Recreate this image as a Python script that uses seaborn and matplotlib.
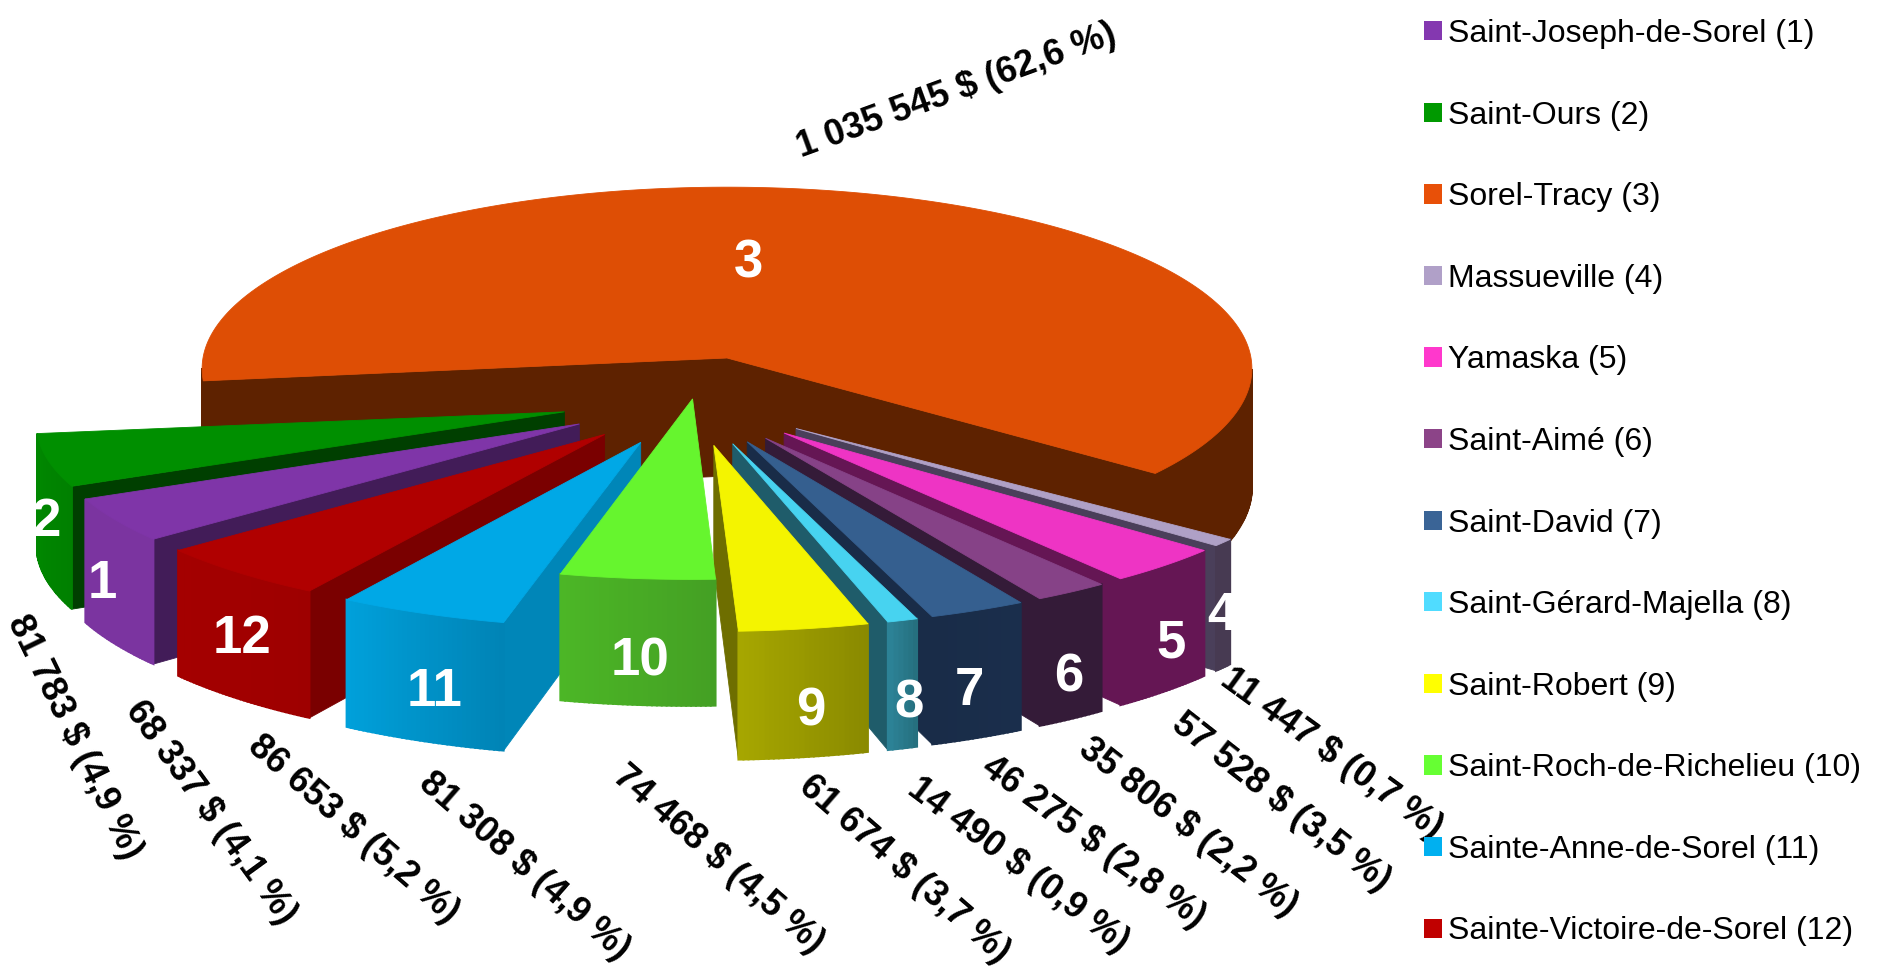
import numpy as np
import matplotlib
matplotlib.use("Agg")
import matplotlib.pyplot as plt
from matplotlib.patches import Patch
import seaborn as sns

names = ["Saint-Joseph-de-Sorel (1)", "Saint-Ours (2)", "Sorel-Tracy (3)", "Massueville (4)",
         "Yamaska (5)", "Saint-Aimé (6)", "Saint-David (7)", "Saint-Gérard-Majella (8)",
         "Saint-Robert (9)", "Saint-Roch-de-Richelieu (10)", "Sainte-Anne-de-Sorel (11)",
         "Sainte-Victoire-de-Sorel (12)"]
values = [68337, 81783, 1035545, 11447, 57528, 35806, 46275, 14490, 61674, 74468, 81308, 86653]
percents = ["4,1", "4,9", "62,6", "0,7", "3,5", "2,2", "2,8", "0,9", "3,7", "4,5", "4,9", "5,2"]

legend_colors = ["#8438B0", "#009900", "#E85008", "#B0A0C8", "#FF38CC", "#8C4488",
                 "#3A6496", "#50DCFF", "#FFFF00", "#66FF33", "#00B0F0", "#C00000"]
top_colors = ["#7F35A8", "#008F00", "#DE4E05", "#AFA0C6", "#EE34C4", "#864287",
              "#355F8F", "#47D3F0", "#F4F400", "#66F52E", "#00A8E6", "#B00000"]
outer_light = ["#7B34A0", "#008800", "#5E2200", "#473A52", "#651654", "#341B38",
               "#192C48", "#2C8296", "#A6A600", "#4CB626", "#00A0DA", "#A40000"]
outer_dark = ["#7B34A0", "#008000", "#5E2200", "#473A52", "#651654", "#341B38",
              "#1A2E4C", "#26707F", "#8A8A00", "#44A024", "#0084B6", "#9E0000"]
radial_colors = ["#421C58", "#003F00", "#5E2200", "#4A3F5A", "#651654", "#341B38",
                 "#192C48", "#1F5C6A", "#6E6E00", "#44A024", "#0086B8", "#7A0000"]

# pie geometry, in pixels of the final picture
CX, CY = 727, 358
RADIUS = 524
HEIGHT = 118
TILT = 0.345
CAMERA = 9000
END_OF_3 = -38
EXPLODE = [131, 131, 0, 131, 131, 131, 131, 131, 131, 0, 131, 131]
SHIFT = [(-34, -117)] * 2 + [(0, 0)] + [(-34, -117)] * 9
# the small slices come out a little shorter than the big one
FAN_RX, FAN_RY = 0.988, 0.92
DRAW_ORDER = [2, 1, 0, 11, 3, 4, 5, 6, 7, 8, 10, 9]

number_pos = [(102, 584), (46, 522), (748, 263), (1222, 616), (1171, 643), (1069, 677),
              (969, 691), (909, 704), (811, 712), (640, 661), (435, 692), (242, 639)]
value_pos = [(132, 705), (16, 617), (798, 149), (1224, 676), (1176, 720), (1083, 745),
             (985, 764), (912, 785), (803, 782), (617, 772), (423, 779), (252, 742)]
value_rot = [-54, -64, 20, -36, -38, -38, -36, -37, -41, -41, -41, -41]


def project(x, y, z=0.0):
    w = CAMERA / (CAMERA + y)
    return CX + x * w, CY - (y * TILT + z) * w


def facing(p0, p1, p2, p3):
    # signed area of the projected quad, sign tells which side we see
    xs = [p0[0], p1[0], p2[0], p3[0]]
    ys = [p0[1], p1[1], p2[1], p3[1]]
    return 0.5 * sum(xs[i] * ys[(i + 1) % 4] - xs[(i + 1) % 4] * ys[i] for i in range(4))


def quad(ax, pts, color, lw=0.6):
    ax.fill([p[0] for p in pts], [p[1] for p in pts], color=color, lw=lw, zorder=2)


sns.set_theme(style="white")
plt.rcParams["font.family"] = ["Liberation Sans", "DejaVu Sans"]

fig, ax = plt.subplots(figsize=(18.81, 9.68), dpi=100)
ax.set_position([0, 0, 1, 1])
ax.set_xlim(0, 1881)
ax.set_ylim(968, 0)
ax.axis("off")

# slices run clockwise, slice 3 ends at END_OF_3
sweeps = np.array(values) / sum(values) * 360
starts = END_OF_3 + sweeps[:3].sum() - np.cumsum(np.r_[0, sweeps])[:-1]
ends = starts - sweeps

for i in DRAW_ORDER:
    a0, a1 = np.radians(starts[i]), np.radians(ends[i])
    mid = (a0 + a1) / 2
    ox = SHIFT[i][0] + EXPLODE[i] * np.cos(mid)
    oy = SHIFT[i][1] + EXPLODE[i] * np.sin(mid)
    fx, fy = (1, 1) if i == 2 else (FAN_RX, FAN_RY)
    arc = np.linspace(a0, a1, max(int(sweeps[i] * 2), 6) + 1)
    ax_pts = [(ox + RADIUS * fx * np.cos(t), oy + RADIUS * fy * np.sin(t)) for t in arc]

    # the two cut faces, only the ones turned to the camera
    for (px, py), sign in ((ax_pts[0], 1), (ax_pts[-1], -1)):
        q = [project(ox, oy), project(px, py), project(px, py, -HEIGHT), project(ox, oy, -HEIGHT)]
        if sign * facing(*q) < 0 or i == 2:
            quad(ax, q, radial_colors[i])

    # outer wall, split in strips for the gradient
    light = np.array(matplotlib.colors.to_rgb(outer_light[i]))
    dark = np.array(matplotlib.colors.to_rgb(outer_dark[i]))
    for j in range(len(ax_pts) - 1):
        (x0, y0), (x1, y1) = ax_pts[j], ax_pts[j + 1]
        q = [project(x0, y0), project(x1, y1), project(x1, y1, -HEIGHT), project(x0, y0, -HEIGHT)]
        if facing(*q) < 0:
            frac = j / (len(ax_pts) - 2)
            quad(ax, q, tuple(dark + (light - dark) * frac), lw=1.4)

    top = [project(ox, oy)] + [project(x, y) for x, y in ax_pts]
    quad(ax, top, top_colors[i])

for i, pos in enumerate(number_pos):
    ax.text(pos[0], pos[1], str(i + 1), color="white", fontsize=38, fontweight="bold",
            ha="center", va="center", zorder=5)

for i, pos in enumerate(value_pos):
    amount = f"{values[i]:,}".replace(",", " ")
    ax.text(pos[0], pos[1], f"{amount} $ ({percents[i]} %)", color="black", fontsize=26,
            fontweight="bold", rotation=value_rot[i], rotation_mode="anchor",
            ha="left", va="center", zorder=5)

handles = [Patch(facecolor=c, edgecolor="none", label=n) for c, n in zip(legend_colors, names)]
ax.legend(handles=handles, loc="upper left", bbox_to_anchor=(1424 / 1881, 1 - 19 / 968),
          frameon=False, fontsize=23, labelcolor="black", handlelength=0.55, handleheight=0.55,
          handletextpad=0.2, labelspacing=1.615, borderpad=0, borderaxespad=0)

plt.savefig("out.png", dpi=100, facecolor="white")
